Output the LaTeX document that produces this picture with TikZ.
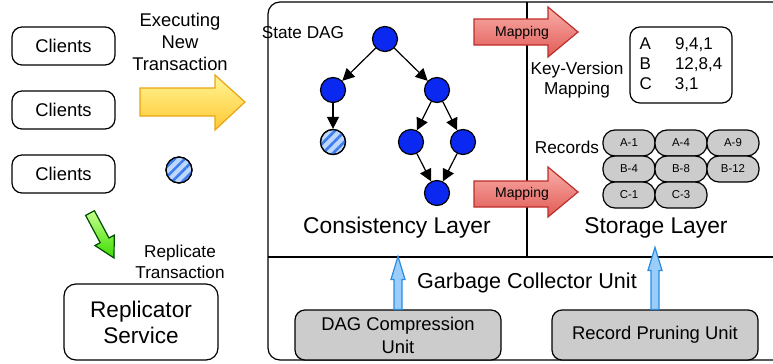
\documentclass[tikz,border=0pt]{standalone}
\usepackage{fontspec}
\setmainfont{Liberation Sans}
\usetikzlibrary{positioning,arrows.meta,patterns.meta}

\definecolor{dagblue}{RGB}{10,40,240}
\definecolor{hatchbg}{RGB}{190,215,255}
\definecolor{hatchfg}{RGB}{60,125,240}
\definecolor{pillgray}{RGB}{204,204,204}
\definecolor{maptop}{RGB}{250,175,170}
\definecolor{mapbot}{RGB}{225,90,85}
\definecolor{mapedge}{RGB}{190,45,40}
\definecolor{exectop}{RGB}{255,245,150}
\definecolor{execbot}{RGB}{255,200,50}
\definecolor{execedge}{RGB}{235,165,20}
\definecolor{reptop}{RGB}{200,255,140}
\definecolor{repbot}{RGB}{60,220,0}
\definecolor{upfill}{RGB}{155,205,250}
\definecolor{upedge}{RGB}{40,140,225}

\tikzset{
  client/.style={draw, rounded corners=5pt, minimum width=51.5pt, minimum height=19pt, font=\fontsize{9.2}{11}\selectfont},
  dagnode/.style={circle, draw, fill=dagblue, minimum size=12.5pt, inner sep=0pt},
  hatchnode/.style={circle, draw, fill=hatchbg, minimum size=12.5pt, inner sep=0pt,
    postaction={pattern={Lines[angle=45,distance=3.6pt,line width=1.3pt]}, pattern color=hatchfg},
    postaction={draw}},
  pill/.style={draw, fill=pillgray, rounded corners=6pt, minimum width=26pt, minimum height=13pt, inner sep=0pt, font=\fontsize{5.7}{6}\selectfont},
  gcbox/.style={draw, fill=pillgray, rounded corners=5pt, minimum width=103pt, minimum height=25pt, align=center, font=\fontsize{9.2}{11.5}\selectfont},
  kvbox/.style={draw, rounded corners=5pt, minimum width=51pt, minimum height=38pt, font=\fontsize{8.5}{10}\selectfont},
  lbl/.style={align=center, font=\fontsize{8.6}{10.3}\selectfont},
  layerlbl/.style={font=\fontsize{11.4}{13}\selectfont},
  maparrow/.style={draw=mapedge, top color=maptop, bottom color=mapbot},
  execarrow/.style={draw=execedge, top color=exectop, bottom color=execbot},
  reparrow/.style={draw=black!70!green, top color=reptop, bottom color=repbot},
  uparrow/.style={draw=upedge, fill=upfill}
}

\begin{document}
\begin{tikzpicture}[x=0.5pt,y=-0.5pt,on grid,line width=0.6pt,>={Triangle[length=6pt,width=6pt]}]
\useasboundingbox (0,0) rectangle (773,364);

% clients side
\node[client] (c1) at (63.5,46) {Clients};
\node[client] (c2) [below=32pt of c1] {Clients};
\node[client] (c3) [below=32pt of c2] {Clients};
\node[lbl, font=\fontsize{9.2}{10.8}\selectfont] (exec) at (180,42) {Executing\\New\\Transaction};
\path[execarrow] (140,88) -- (215,88) -- (215,75) -- (245,102) -- (215,130) -- (215,116) -- (140,116) -- cycle;
\node[hatchnode, minimum size=13pt] (txn) at (179,170) {};
\path[reparrow] (94.4,210.7) -- (109,238) -- (114.3,235.1) -- (114,258) -- (94.9,245.5) -- (100.2,242.7) -- (85.6,215.4) -- cycle;
\node[lbl] (rep) at (180,262) {Replicate\\Transaction};
\node[draw, rounded corners=6pt, minimum width=77pt, minimum height=38pt, align=center, font=\fontsize{11.3}{13}\selectfont] (replicator) at (141,322) {Replicator\\Service};

% frame
\draw[rounded corners=6pt] (773,2) -- (268,2) -- (268,360) -- (773,360);
\draw (527,2) -- (527,257);
\draw (268,257) -- (773,257);

% consistency layer
\node[lbl] (daglbl) at (303,33) {State DAG};
\node[dagnode] (root) at (385,39) {};
\node[dagnode] (l) [below left=25.5pt and 26pt of root] {};
\node[dagnode] (r) [below right=25.5pt and 26pt of root] {};
\node[hatchnode] (lh) [below=26pt of l] {};
\node[dagnode] (rl) [below left=26pt and 13pt of r] {};
\node[dagnode] (rr) [below right=26pt and 13pt of r] {};
\node[dagnode] (bot) [below right=25.5pt and 13pt of rl] {};
\draw[->] (root) -- (l);
\draw[->] (root) -- (r);
\draw[->] (l) -- (lh);
\draw[->] (r) -- (rl);
\draw[->] (r) -- (rr);
\draw[->] (rl) -- (bot);
\draw[->] (rr) -- (bot);
\node[layerlbl] (cons) at (397,228) {Consistency Layer};

% mapping arrows
\path[maparrow] (474,19) -- (548,19) -- (548,7) -- (578,32) -- (548,57) -- (548,45) -- (474,45) -- cycle;
\node[font=\fontsize{7}{8}\selectfont] (map1) at (522,33) {Mapping};
\path[maparrow] (474,181) -- (548,181) -- (548,167) -- (578,192) -- (548,217) -- (548,207) -- (474,207) -- cycle;
\node[font=\fontsize{7}{8}\selectfont] (map2) at (522,194) {Mapping};

% storage layer
\node[lbl] (kvlbl) at (577,80) {Key-Version\\Mapping};
\node[kvbox] (kv) at (681,65) {\begin{tabular}{@{}l@{\hspace{11.5pt}}l@{}}A & 9,4,1\\ B & 12,8,4\\ C & 3,1\end{tabular}};
\node[lbl] (reclbl) at (567,147) {Records};
\node[pill] (a1) at (629,143) {A-1};
\node[pill] (a4) at (681,143) {A-4};
\node[pill] (a9) at (733,143) {A-9};
\node[pill] (b4) at (629,169) {B-4};
\node[pill] (b8) at (681,169) {B-8};
\node[pill] (b12) at (733,169) {B-12};
\node[pill] (c1r) at (629,195) {C-1};
\node[pill] (c3r) at (681,195) {C-3};
\node[layerlbl] (stor) at (656,228) {Storage Layer};

% garbage collector
\node[layerlbl, font=\fontsize{10.8}{13}\selectfont] (gc) at (527,283) {Garbage Collector Unit};
\node[gcbox] (dagc) at (398,335) {DAG Compression\\Unit};
\node[gcbox] (prune) at (655,335) {Record Pruning Unit};
\draw[uparrow] ([shift={(-4,0)}]dagc.north) -- ++(0,-30) -- ++(-3,0) -- ++(7,-23) -- ++(7,23) -- ++(-3,0) -- ++(0,30) -- cycle;
\draw[uparrow] ([shift={(-4,0)}]prune.north) -- ++(0,-39) -- ++(-3,0) -- ++(7,-23) -- ++(7,23) -- ++(-3,0) -- ++(0,39) -- cycle;
\end{tikzpicture}
\end{document}
